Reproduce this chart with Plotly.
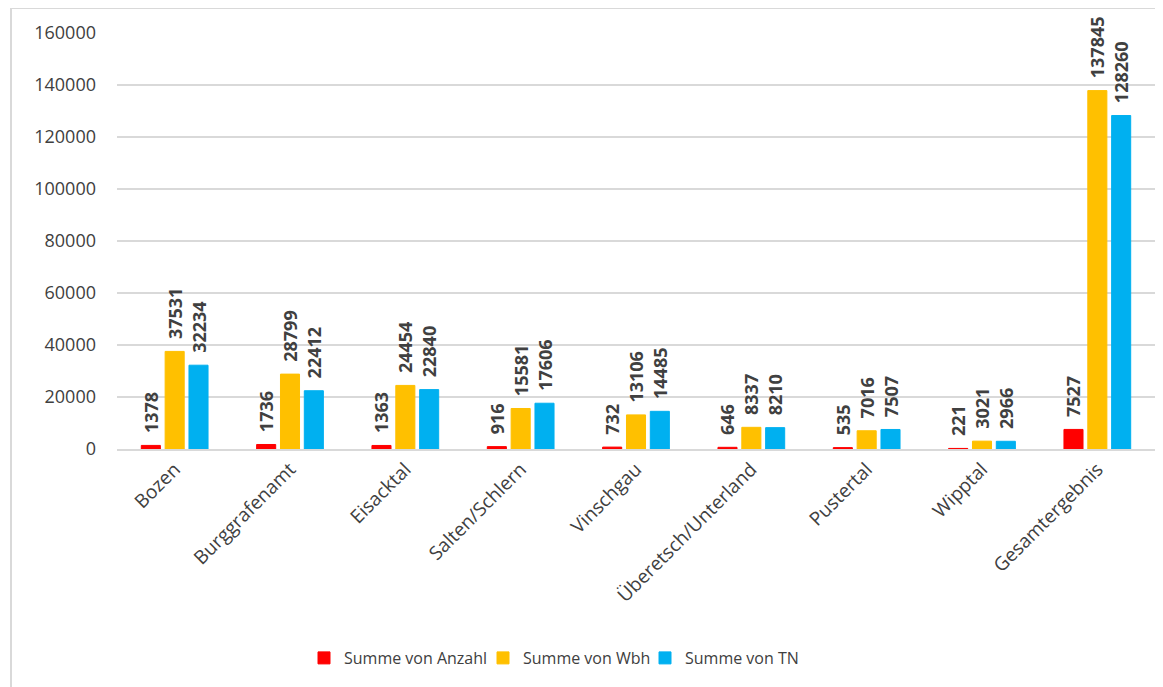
import plotly.graph_objects as go

categories = ["Bozen", "Burggrafenamt", "Eisacktal", "Salten/Schlern", "Vinschgau",
              "Überetsch/Unterland", "Pustertal", "Wipptal", "Gesamtergebnis"]
anzahl = [1378, 1736, 1363, 916, 732, 646, 535, 221, 7527]
wbh = [37531, 28799, 24454, 15581, 13106, 8337, 7016, 3021, 137845]
tn = [32234, 22412, 22840, 17606, 14485, 8210, 7507, 2966, 128260]

series = [
    ("Summe von Anzahl", anzahl, "#FF0000", "legend"),
    ("Summe von Wbh", wbh, "#FFC000", "legend2"),
    ("Summe von TN", tn, "#00B0F0", "legend3"),
]

W, H = 1163, 687
OFF = 8  # page body margin offset
# desired screen positions of plot area
sx0, sx1, sy0, sy1 = 117, 1155, 33, 449
L, T = sx0 - OFF, sy0 - OFF
R = W - (sx1 - OFF)
B = H - (sy1 - OFF)
pw, ph = W - L - R, H - T - B

def px_x(sx):
    return (sx - OFF - L) / pw

def px_y(sy):
    return (H - B - (sy - OFF)) / ph

PAD = "\u00a0\u00a0"

fig = go.Figure()
for name, vals, col, leg in series:
    fig.add_trace(go.Bar(
        x=categories, y=vals, name=name, legend=leg,
        marker=dict(color=col, line=dict(color=col, width=1)),
        text=[PAD + str(v) for v in vals],
        textposition="outside", textangle=-90, constraintext="none",
        textfont=dict(family="Open Sans", size=18, color="#404040", weight="bold"),
        cliponaxis=False,
    ))

def leg(sx):
    return dict(orientation="h", x=px_x(sx - 15), xanchor="left",
                y=px_y(658), yanchor="middle", bgcolor="rgba(0,0,0,0)",
                font=dict(size=16, color="#404040"), itemwidth=30)

fig.update_layout(
    width=W, height=H,
    margin=dict(l=L, r=R, t=T, b=B, autoexpand=False),
    paper_bgcolor="white", plot_bgcolor="white",
    barmode="group", bargap=0.38, bargroupgap=0.2,
    font=dict(family="Open Sans", color="#404040"),
    xaxis=dict(tickangle=-45, tickfont=dict(size=19, color="#404040"),
               showgrid=False, showline=True, linecolor="#d9d9d9", linewidth=1.5,
               ticks="", automargin=False),
    yaxis=dict(range=[0, 160000], dtick=20000, tickfont=dict(size=18, color="#404040"),
               showgrid=True, gridcolor="#d9d9d9", gridwidth=1.5,
               zeroline=False, showline=False, ticks="", automargin=False,
               ticklabelstandoff=20, tickformat="d"),
    legend=leg(319),
    legend2=leg(498),
    legend3=leg(660),
    showlegend=True,
)

# chart frame (left and top edges visible)
fig.add_shape(type="line", xref="paper", yref="paper",
              x0=px_x(11), x1=px_x(W + 20), y0=px_y(8), y1=px_y(8),
              line=dict(color="#d9d9d9", width=2))
fig.add_shape(type="line", xref="paper", yref="paper",
              x0=px_x(11), x1=px_x(11), y0=px_y(8), y1=px_y(H + 20),
              line=dict(color="#d9d9d9", width=2))

fig.write_html("out.html")
